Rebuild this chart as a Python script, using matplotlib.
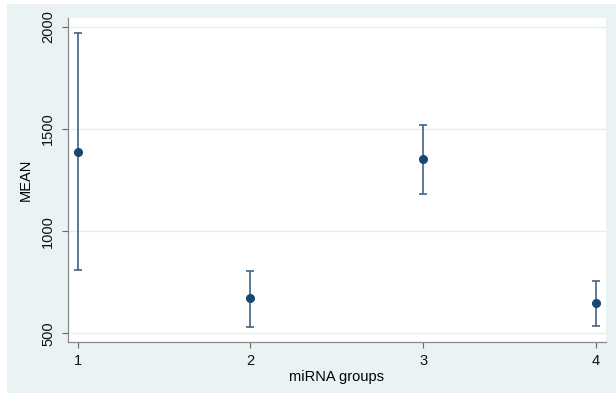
import matplotlib
matplotlib.use("Agg")
import matplotlib.pyplot as plt
from matplotlib.patches import Rectangle

# Group means with lower/upper interval limits
groups = [1, 2, 3, 4]
means = [1388, 671, 1352, 649]
lower = [809, 532, 1183, 537]
upper = [1968, 804, 1519, 757]
yticks = [500, 1000, 1500, 2000]

plt.rcParams["font.family"] = ["Liberation Sans", "DejaVu Sans"]

W, H = 616, 395
fig = plt.figure(figsize=(W / 100, H / 100), dpi=100)
fig.patch.set_facecolor("white")

# light graph-region background
bg = "#eaf2f3"
fig.patches.append(Rectangle((7 / W, 1 - 393 / H), (616 - 7) / W, (393 - 4) / H,
                             transform=fig.transFigure, facecolor=bg,
                             edgecolor="none", zorder=-10))

ax = fig.add_axes([67.7 / W, 1 - 341.7 / H, (605.5 - 67.7) / W, (341.7 - 18) / H])
ax.set_zorder(5)
ax.set_facecolor("white")
ax.set_xlim(0.942, 4.056)
ax.set_ylim(459, 2043)

line_col = "#3e6487"
mark_col = "#1a476f"
err_lo = [m - l for m, l in zip(means, lower)]
err_hi = [u - m for m, u in zip(means, upper)]
ax.errorbar(groups, means, yerr=[err_lo, err_hi], fmt="none", ecolor=line_col,
            elinewidth=1.2, capsize=2.7, capthick=1.2, zorder=3)
ax.plot(groups, means, "o", color=mark_col, markersize=5.5, zorder=4)

ax.set_yticks(yticks)
ax.set_xticks(groups)
ax.set_yticklabels([str(v) for v in yticks], rotation=90, va="center")
ax.tick_params(axis="both", colors="#666666", labelcolor="#111111", labelsize=10.5,
               length=4, width=0.8)
ax.tick_params(axis="y", pad=5)
ax.tick_params(axis="x", pad=5)
ax.grid(axis="y", color="#e6eff0", linewidth=1)
ax.set_axisbelow(True)

for s in ["top", "right"]:
    ax.spines[s].set_visible(False)
for s in ["left", "bottom"]:
    ax.spines[s].set_color("#888888")
    ax.spines[s].set_linewidth(0.9)

ax.set_ylabel("MEAN", fontsize=10.5, labelpad=6)
ax.set_xlabel("miRNA groups", fontsize=10.5, labelpad=1)

fig.savefig("out.png", dpi=100, facecolor=fig.get_facecolor())
